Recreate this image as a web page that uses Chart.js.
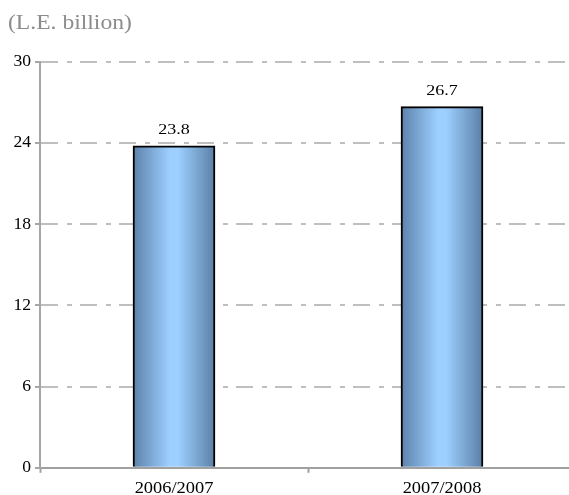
<!DOCTYPE html>
<html>
<head>
<meta charset="utf-8">
<script src="https://cdn.jsdelivr.net/npm/chart.js@4.4.0/dist/chart.umd.min.js"></script>
<style>
  html, body { margin: 0; padding: 0; background: #fff; overflow: hidden; }
  #wrap { width: 580px; height: 504px; }
</style>
</head>
<body>
<div id="wrap"><canvas id="chart"></canvas></div>
<script>
// chart data
const categories = ['2006/2007', '2007/2008'];
const values = [23.8, 26.7];
const yTicks = [0, 6, 12, 18, 24, 30];
const unitLabel = '(L.E. billion)';

const serif = '"Liberation Serif", "Times New Roman", serif';
const hidden = 'rgba(0,0,0,0)';

// the original text looks horizontally stretched, so draw it with a scale
function wideText(ctx, text, x, y, size, align, color, sx) {
    ctx.save();
    ctx.font = size + 'px ' + serif;
    ctx.fillStyle = color;
    ctx.textBaseline = 'middle';
    ctx.textAlign = align;
    ctx.translate(x, y);
    ctx.scale(sx, 1);
    ctx.fillText(text, 0, 0);
    ctx.restore();
}

// horizontal gradient for each bar, like the shaded cylinders in the original
function barGradient(context) {
    const chart = context.chart;
    const xs = chart.scales.x;
    if (!xs || !chart.chartArea) return '#8ab8e6';
    const cx = xs.getPixelForValue(context.dataIndex);
    const half = 41;
    const g = chart.ctx.createLinearGradient(cx - half, 0, cx + half, 0);
    g.addColorStop(0, '#5d82ab');
    g.addColorStop(0.45, '#9dcfff');
    g.addColorStop(0.55, '#9dcfff');
    g.addColorStop(1, '#5b7fa6');
    return g;
}

const extras = {
    id: 'extras',
    afterDatasetsDraw(chart) {
        const ctx = chart.ctx;
        const meta = chart.getDatasetMeta(0);
        meta.data.forEach((bar, i) => {
            wideText(ctx, values[i].toFixed(1), bar.x, bar.y - 16, 15, 'center', '#000', 1.2);
        });
    },
    afterDraw(chart) {
        const ctx = chart.ctx;
        const xs = chart.scales.x;
        const ys = chart.scales.y;
        // y tick labels
        ys.ticks.forEach(t => {
            wideText(ctx, String(t.value), xs.left - 9, ys.getPixelForValue(t.value), 16, 'right', '#000', 1.1);
        });
        // category labels
        categories.forEach((c, i) => {
            wideText(ctx, c, xs.getPixelForValue(i), xs.top + 21, 16, 'center', '#000', 1.15);
        });
        wideText(ctx, unitLabel, 8, 24, 20, 'left', '#8c8c8c', 1.18);
    }
};

new Chart(document.getElementById('chart'), {
    type: 'bar',
    data: {
        labels: categories,
        datasets: [{
            data: values,
            backgroundColor: barGradient,
            borderColor: '#000',
            borderWidth: 2,
            borderSkipped: 'bottom',
            barThickness: 82
        }]
    },
    options: {
        responsive: true,
        maintainAspectRatio: false,
        animation: false,
        layout: { padding: { top: 62, right: 4, left: 12, bottom: 0 } },
        scales: {
            x: {
                grid: {
                    drawOnChartArea: false,
                    drawTicks: true,
                    tickLength: 5,
                    tickColor: '#a0a0a0',
                    tickWidth: 2
                },
                border: { color: '#a0a0a0', width: 2 },
                ticks: {
                    color: hidden,
                    font: { family: serif, size: 16 },
                    padding: 6
                }
            },
            y: {
                min: 0,
                max: 30,
                afterBuildTicks(axis) {
                    axis.ticks = yTicks.map(v => ({ value: v }));
                },
                grid: {
                    color: '#bfbfbf',
                    lineWidth: 2,
                    tickLength: 5,
                    tickColor: '#a6a6a6',
                    tickWidth: 2,
                    tickBorderDash: []
                },
                border: { color: '#a6a6a6', width: 2, dash: [17, 9, 5, 8] },
                ticks: {
                    color: hidden,
                    font: { family: serif, size: 15 },
                    padding: 4
                }
            }
        },
        plugins: {
            legend: { display: false },
            tooltip: { enabled: false }
        }
    },
    plugins: [extras]
});
</script>
</body>
</html>
